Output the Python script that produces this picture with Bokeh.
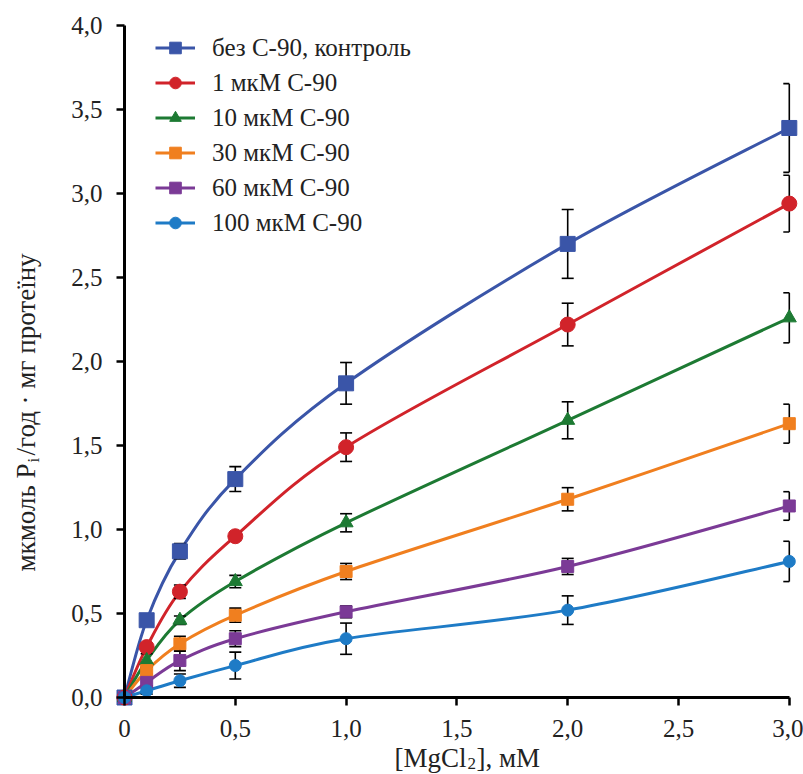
import numpy as np
from bokeh.plotting import figure
from bokeh.models import Range1d, FixedTicker, CustomJSTickFormatter, Label, Legend, LegendItem
from bokeh.embed import file_html
from bokeh.resources import INLINE

# MgCl2 concentration, mM
mgcl2 = [0.0, 0.1, 0.25, 0.5, 1.0, 2.0, 3.0]

series_names = ["без С-90, контроль", "1 мкМ С-90", "10 мкМ С-90",
                "30 мкМ С-90", "60 мкМ С-90", "100 мкМ С-90"]

# ATPase activity, µmol Pi / h · mg protein
control = [0.0, 0.46, 0.87, 1.30, 1.87, 2.70, 3.39]
c90_1 = [0.0, 0.30, 0.63, 0.96, 1.49, 2.22, 2.94]
c90_10 = [0.0, 0.22, 0.46, 0.69, 1.04, 1.65, 2.26]
c90_30 = [0.0, 0.16, 0.32, 0.49, 0.75, 1.18, 1.63]
c90_60 = [0.0, 0.09, 0.22, 0.35, 0.51, 0.78, 1.14]
c90_100 = [0.0, 0.04, 0.10, 0.19, 0.35, 0.52, 0.81]

# standard errors
control_err = [0.0, 0.02, 0.046, 0.074, 0.124, 0.205, 0.264]
c90_1_err = [0.0, 0.02, 0.04, 0.025, 0.085, 0.127, 0.169]
c90_10_err = [0.0, 0.04, 0.025, 0.037, 0.054, 0.110, 0.149]
c90_30_err = [0.0, 0.02, 0.045, 0.042, 0.048, 0.069, 0.116]
c90_60_err = [0.0, 0.02, 0.06, 0.047, 0.035, 0.048, 0.085]
c90_100_err = [0.0, 0.02, 0.04, 0.08, 0.093, 0.085, 0.12]

x_ticks = [0.0, 0.5, 1.0, 1.5, 2.0, 2.5, 3.0]
x_tick_labels = ["0", "0,5", "1,0", "1,5", "2,0", "2,5", "3,0"]
y_ticks = [0.0, 0.5, 1.0, 1.5, 2.0, 2.5, 3.0, 3.5, 4.0]
y_tick_labels = ["0,0", "0,5", "1,0", "1,5", "2,0", "2,5", "3,0", "3,5", "4,0"]

values = [control, c90_1, c90_10, c90_30, c90_60, c90_100]
errors = [control_err, c90_1_err, c90_10_err, c90_30_err, c90_60_err, c90_100_err]
colors = ["#3A55A8", "#D1232A", "#1D7A33", "#F07F1F", "#7B3A96", "#1E7BC6"]
markers = ["square", "circle", "triangle", "square", "square", "circle"]
sizes = [15, 15, 14, 12, 12, 12]

FONT = "Liberation Serif"
X_MAX, Y_MAX = 3.0, 4.0
W, H = 803, 774
# the frame fills the whole canvas; the axes sit at the data origin
kx, ky = 221.6, 168.0          # px per mM, px per activity unit
x0_px, y0_px = 124.0, 697.0    # pixel position of the origin
x_lo, x_hi = -x0_px / kx, (W - x0_px) / kx
y_lo, y_hi = -(H - y0_px) / ky, y0_px / ky


def dx(px):
    return (px - x0_px) / kx


def dy(py):
    return (y0_px - py) / ky


p = figure(width=W, height=H, output_backend="svg", toolbar_location=None,
           x_range=Range1d(x_lo, x_hi), y_range=Range1d(y_lo, y_hi),
           min_border_left=0, min_border_right=0,
           min_border_top=0, min_border_bottom=0)
p.outline_line_color = None
p.grid.visible = False
p.background_fill_color = "white"

fmt_code = """
for (let i = 0; i < tick_values.length; i++) {
  if (Math.abs(tick_values[i] - tick) < 1e-9) return tick_labels[i];
}
return '';
"""
for ax, tks, lbls, bnds in [(p.xaxis[0], x_ticks, x_tick_labels, (0, X_MAX)),
                            (p.yaxis[0], y_ticks, y_tick_labels, (0, Y_MAX))]:
    ax.ticker = FixedTicker(ticks=tks)
    ax.formatter = CustomJSTickFormatter(args=dict(tick_values=tks, tick_labels=lbls),
                                         code=fmt_code)
    ax.bounds = bnds
    ax.fixed_location = 0
    ax.axis_line_width = 3
    ax.axis_line_color = "black"
    ax.major_tick_line_width = 2.5
    ax.major_tick_out = 8
    ax.major_tick_in = 0
    ax.minor_tick_line_color = None
    ax.major_label_text_font = FONT
    ax.major_label_text_font_size = "25px"
    ax.major_label_text_color = "#222222"
p.yaxis[0].major_label_standoff = 14
p.xaxis[0].major_label_standoff = 14


def bezier_controls(xs, ys, t=1.0 / 6.0):
    pts = np.column_stack([xs, ys])
    prev = np.vstack([pts[:1], pts[:-1]])
    nxt = np.vstack([pts[1:], pts[-1:]])
    d = (nxt - prev) * t
    c0 = pts[:-1] + d[:-1]
    c1 = pts[1:] - d[1:]
    return pts[:-1], pts[1:], c0, c1


cap = 6.0 / kx
xs = np.array(mgcl2)
curves, dots = [], []
for ys, col in zip(values, colors):
    a, b, c0, c1 = bezier_controls(xs, np.array(ys))
    r = p.bezier(x0=a[:, 0], y0=a[:, 1], x1=b[:, 0], y1=b[:, 1],
                 cx0=c0[:, 0], cy0=c0[:, 1], cx1=c1[:, 0], cy1=c1[:, 1],
                 line_color=col, line_width=3)
    curves.append(r)

for ys, es in zip(values, errors):
    y = np.array(ys)
    e = np.array(es)
    m = e > 0
    xm, ym, em = xs[m], y[m], e[m]
    left = xm - cap
    right = np.minimum(xm + cap, X_MAX)
    p.segment(xm, ym - em, xm, ym + em, line_color="black", line_width=1.6)
    p.segment(left, ym + em, right, ym + em, line_color="black", line_width=1.6)
    p.segment(left, ym - em, right, ym - em, line_color="black", line_width=1.6)

for ys, col, mk, sz in zip(values, colors, markers, sizes):
    r = p.scatter(xs, ys, marker=mk, size=sz, fill_color=col, line_color=col)
    dots.append(r)

legend = Legend(items=[LegendItem(label=n, renderers=[c, d])
                       for n, c, d in zip(series_names, curves, dots)])
legend.location = (155, H - 237)
legend.border_line_color = None
legend.background_fill_alpha = 0
legend.padding = 0
legend.margin = 0
legend.spacing = 6
legend.glyph_width = 40
legend.glyph_height = 29
legend.label_height = 29
legend.label_standoff = 17
legend.label_text_font = FONT
legend.label_text_font_size = "25px"
legend.label_text_color = "#222222"
p.add_layout(legend, "center")

# axis titles with subscripts
lbl = dict(text_font=FONT, text_color="#222222")
p.add_layout(Label(x=dx(466), y=dy(757), text="[MgCl", text_align="right",
                   text_baseline="alphabetic", text_font_size="27px", **lbl))
p.add_layout(Label(x=dx(467), y=dy(763), text="2", text_align="left",
                   text_baseline="alphabetic", text_font_size="17px", **lbl))
p.add_layout(Label(x=dx(476), y=dy(757), text="], мМ", text_align="left",
                   text_baseline="alphabetic", text_font_size="27px", **lbl))

p.add_layout(Label(x=dx(25), y=dy(463), text="мкмоль P", angle=np.pi / 2,
                   text_align="right", text_baseline="alphabetic",
                   text_font_size="27px", **lbl))
p.add_layout(Label(x=dx(33), y=dy(462), text="i", angle=np.pi / 2,
                   text_align="left", text_baseline="alphabetic",
                   text_font_size="17px", **lbl))
p.add_layout(Label(x=dx(25), y=dy(455), text="/год · мг протеїну", angle=np.pi / 2,
                   text_align="left", text_baseline="alphabetic",
                   text_font_size="27px", **lbl))

open("out.html", "w").write(file_html(p, INLINE))
